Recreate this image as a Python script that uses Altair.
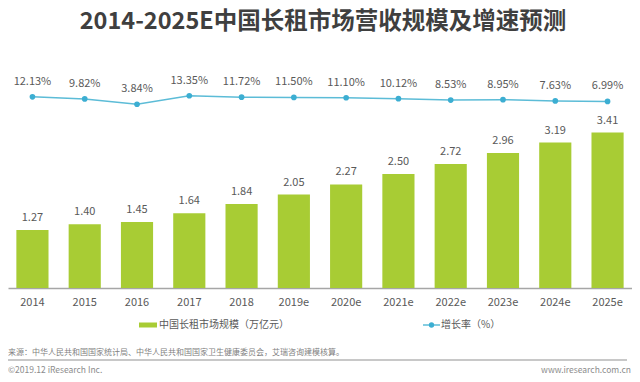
import altair as alt
import pandas as pd

years = ["2014", "2015", "2016", "2017", "2018", "2019e", "2020e", "2021e",
         "2022e", "2023e", "2024e", "2025e"]
market = [1.27, 1.40, 1.45, 1.64, 1.84, 2.05, 2.27, 2.50, 2.72, 2.96, 3.19, 3.41]
growth = [12.13, 9.82, 3.84, 13.35, 11.72, 11.50, 11.10, 10.12, 8.53, 8.95, 7.63, 6.99]

title_text = "2014-2025E中国长租市场营收规模及增速预测"
legend_bar = "中国长租市场规模（万亿元）"
legend_line = "增长率（%）"
source_text = "来源：中华人民共和国国家统计局、中华人民共和国国家卫生健康委员会，艾瑞咨询建模核算。"
footer_left = "©2019.12 iResearch Inc."
footer_right = "www.iresearch.com.cn"

FONT = "Noto Sans CJK SC"
GREEN = "#a8cc34"
BLUE_LINE = "#5cbcd7"
BLUE_DOT = "#3caed2"
TXT = "#595959"
T = 3  # top padding offset

df = pd.DataFrame({"year": years, "market": market, "growth": growth})

x = alt.X("year:N", sort=None, title=None,
          scale=alt.Scale(paddingInner=0.385, paddingOuter=0.16),
          axis=alt.Axis(labelAngle=0, labelFontSize=11, labelColor=TXT, labelFont=FONT,
                        ticks=False, tickSize=0, labelPadding=14, labelBaseline="middle",
                        domainColor="#a6a6a6", domainWidth=1.5, grid=False))

ybar = alt.Y("market:Q", scale=alt.Scale(domain=[0, 6.075], nice=False, zero=True), axis=None)
base = alt.Chart(df)

bars = base.mark_bar(color=GREEN).encode(x=x, y=ybar)
bar_labels = base.mark_text(dy=-12, baseline="middle", fontSize=11, color=TXT, font=FONT).encode(
    x=x, y=ybar, text=alt.Text("market:Q", format=".2f"))
bar_group = alt.layer(bars, bar_labels)

yline = alt.Y("growth:Q", scale=alt.Scale(domain=[-200.3, 107.5], nice=False, zero=False), axis=None)
line = base.mark_line(color=BLUE_LINE, strokeWidth=1.5).encode(x=x, y=yline)
pts = base.mark_point(filled=True, color=BLUE_DOT, size=32, opacity=1).encode(x=x, y=yline)
line_labels = base.transform_calculate(
    lab="format(datum.growth, '.2f') + '%'"
).mark_text(dy=-15, baseline="middle", fontSize=11, color=TXT, font=FONT).encode(
    x=x, y=yline, text="lab:N")
line_group = alt.layer(line, pts, line_labels)

one = alt.Data(values=[{"a": 1}])

def txt(text, xv, yv, size, color, align="left", weight="normal"):
    return alt.Chart(one).mark_text(text=text, fontSize=size, color=color, font=FONT,
                                    align=align, baseline="middle", fontWeight=weight).encode(
        x=alt.value(xv), y=alt.value(yv - T))

title = txt(title_text, 315, 14, 23.5, "#3f3f3f", align="center", weight="bold")

leg_rect = alt.Chart(one).mark_rect(color=GREEN).encode(
    x=alt.value(131), x2=alt.value(149), y=alt.value(314.5 - T), y2=alt.value(319.5 - T))
leg_bar_text = txt(legend_bar, 151, 317, 10, TXT)
leg_line = alt.Chart(one).mark_rule(color=BLUE_LINE, strokeWidth=1.5).encode(
    x=alt.value(415), x2=alt.value(432), y=alt.value(317 - T))
leg_dot = alt.Chart(one).mark_point(filled=True, color=BLUE_DOT, size=28, opacity=1).encode(
    x=alt.value(423.5), y=alt.value(317 - T))
leg_line_text = txt(legend_line, 433, 317, 10, TXT)

source = txt(source_text, 0, 345, 8, "#7f7f7f")
sep = alt.Chart(one).mark_rule(color="#c8c8c8", strokeWidth=2).encode(
    x=alt.value(0), x2=alt.value(619), y=alt.value(352 - T))
foot_l = txt(footer_left, 0, 361.5, 8.5, "#8c8c8c")
foot_r = txt(footer_right, 623, 361.5, 8.5, "#8c8c8c", align="right")

chart = alt.layer(
    bar_group, line_group, title, leg_rect, leg_bar_text, leg_line, leg_dot, leg_line_text,
    source, sep, foot_l, foot_r
).resolve_scale(y="independent").properties(
    width=624, height=280 - T,
    autosize=alt.AutoSizeParams(type="none"),
    padding={"left": 0, "top": T, "right": 0, "bottom": 86},
    background="white",
).configure_view(stroke=None)

chart.save("out.html", embed_options={"renderer": "svg", "actions": False})
